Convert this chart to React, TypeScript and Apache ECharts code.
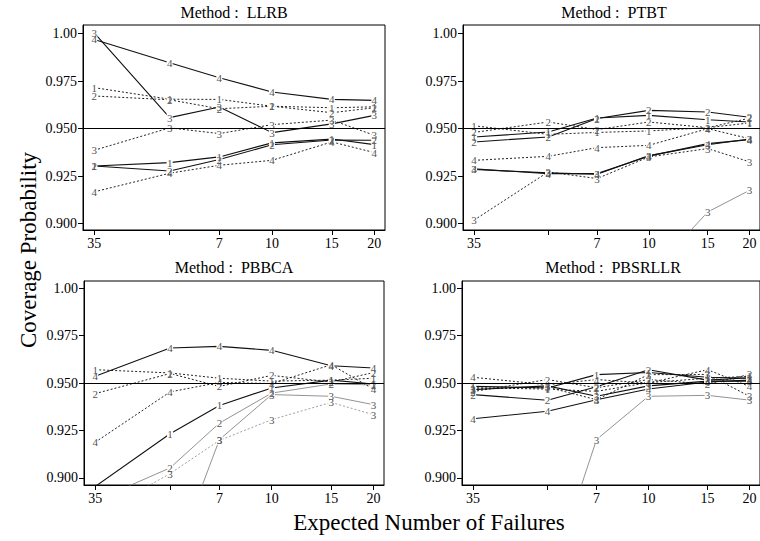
import React, { useEffect, useRef } from "react";
import * as echarts from "echarts";

// ---------- data ----------
const xValues = [3, 5, 7, 10, 15, 20];
const xLabelValues = [3, 7, 10, 15, 20];
const xLabelText: Record<number, string> = { 3: "35", 7: "7", 10: "10", 15: "15", 20: "20" };
const yTickValues = [0.9, 0.925, 0.95, 0.975, 1.0];
const methods = ["LLRB", "PTBT", "PBBCA", "PBSRLLR"];
const xTitle = "Expected Number of Failures";
const yTitle = "Coverage Probability";

// LLRB
const llrbS1 = [0.9303, 0.9321, 0.9351, 0.9425, 0.9445, 0.9416];
const llrbS2 = [0.9303, 0.9277, 0.9337, 0.9415, 0.944, 0.9439];
const llrbS3 = [1.0005, 0.9558, 0.9614, 0.9479, 0.9525, 0.957];
const llrbS4 = [0.997, 0.9847, 0.9768, 0.9693, 0.9654, 0.9649];
const llrbD1 = [0.9716, 0.9655, 0.9654, 0.9618, 0.961, 0.9615];
const llrbD2 = [0.9672, 0.9652, 0.9605, 0.9618, 0.9584, 0.961];
const llrbD3 = [0.9386, 0.9504, 0.9474, 0.9521, 0.9545, 0.9465];
const llrbD4 = [0.9167, 0.9265, 0.9307, 0.9333, 0.943, 0.9374];

// PTBT
const ptbtS1 = [0.9456, 0.9482, 0.9556, 0.957, 0.9547, 0.9535];
const ptbtS2 = [0.943, 0.9456, 0.9553, 0.9596, 0.9588, 0.956];
const ptbtS3 = [0.9285, 0.9267, 0.926, 0.9358, 0.9415, 0.9445];
const ptbtS4 = [0.9288, 0.9263, 0.9263, 0.9355, 0.9421, 0.9442];
const ptbtD1 = [0.9515, 0.947, 0.948, 0.9488, 0.9505, 0.953];
const ptbtD2 = [0.948, 0.9535, 0.9495, 0.9535, 0.9505, 0.9555];
const ptbtD3 = [0.9018, 0.9272, 0.9237, 0.9351, 0.9395, 0.9325];
const ptbtD4 = [0.9333, 0.9354, 0.94, 0.9412, 0.95, 0.9447];
const ptbtT3 = [0.78, 0.82, 0.85, 0.8725, 0.9061, 0.9175];

// PBBCA
const pbbcaS1 = [0.8955, 0.9233, 0.9382, 0.9474, 0.9515, 0.9495];
const pbbcaS4 = [0.9535, 0.9684, 0.9693, 0.9672, 0.9591, 0.9579];
const pbbcaD1 = [0.957, 0.9553, 0.9525, 0.951, 0.9515, 0.9525];
const pbbcaD2 = [0.9444, 0.955, 0.9482, 0.954, 0.9505, 0.9555];
const pbbcaD4 = [0.9188, 0.9453, 0.9503, 0.9497, 0.9596, 0.9468];
const pbbcaT2 = [0.888, 0.9053, 0.9289, 0.9447, 0.9495, 0.949];
const pbbcaT3 = [0.83, 0.851, 0.9202, 0.9439, 0.943, 0.9386];
const pbbcaTD3 = [0.88, 0.9023, 0.9198, 0.9307, 0.9398, 0.9333];

// PBSRLLR
const pbsrS1 = [0.9482, 0.9474, 0.9544, 0.9555, 0.953, 0.9525];
const pbsrS2 = [0.9439, 0.9409, 0.948, 0.957, 0.9515, 0.9528];
const pbsrS3 = [0.9465, 0.9485, 0.943, 0.9485, 0.951, 0.951];
const pbsrS4 = [0.9312, 0.9351, 0.9412, 0.9468, 0.9505, 0.9515];
const pbsrD1 = [0.9475, 0.9468, 0.9456, 0.9502, 0.9525, 0.9535];
const pbsrD2 = [0.9455, 0.9518, 0.9475, 0.9518, 0.9495, 0.9545];
const pbsrD3 = [0.9468, 0.9478, 0.9412, 0.9544, 0.9545, 0.943];
const pbsrD4 = [0.953, 0.9491, 0.9518, 0.95, 0.957, 0.9482];
const pbsrT3 = [0.8, 0.8423, 0.9202, 0.943, 0.9435, 0.941];

type Kind = "solid" | "dotted" | "thin" | "thindotted";
type Def = { digit: string; kind: Kind; values: number[] };

const panels: Def[][] = [
  [
    { digit: "1", kind: "dotted", values: llrbD1 },
    { digit: "2", kind: "dotted", values: llrbD2 },
    { digit: "3", kind: "dotted", values: llrbD3 },
    { digit: "4", kind: "dotted", values: llrbD4 },
    { digit: "1", kind: "solid", values: llrbS1 },
    { digit: "2", kind: "solid", values: llrbS2 },
    { digit: "3", kind: "solid", values: llrbS3 },
    { digit: "4", kind: "solid", values: llrbS4 },
  ],
  [
    { digit: "3", kind: "thin", values: ptbtT3 },
    { digit: "1", kind: "dotted", values: ptbtD1 },
    { digit: "2", kind: "dotted", values: ptbtD2 },
    { digit: "3", kind: "dotted", values: ptbtD3 },
    { digit: "4", kind: "dotted", values: ptbtD4 },
    { digit: "1", kind: "solid", values: ptbtS1 },
    { digit: "2", kind: "solid", values: ptbtS2 },
    { digit: "3", kind: "solid", values: ptbtS3 },
    { digit: "4", kind: "solid", values: ptbtS4 },
  ],
  [
    { digit: "2", kind: "thin", values: pbbcaT2 },
    { digit: "3", kind: "thin", values: pbbcaT3 },
    { digit: "3", kind: "thindotted", values: pbbcaTD3 },
    { digit: "1", kind: "dotted", values: pbbcaD1 },
    { digit: "2", kind: "dotted", values: pbbcaD2 },
    { digit: "4", kind: "dotted", values: pbbcaD4 },
    { digit: "1", kind: "solid", values: pbbcaS1 },
    { digit: "4", kind: "solid", values: pbbcaS4 },
  ],
  [
    { digit: "3", kind: "thin", values: pbsrT3 },
    { digit: "1", kind: "dotted", values: pbsrD1 },
    { digit: "2", kind: "dotted", values: pbsrD2 },
    { digit: "3", kind: "dotted", values: pbsrD3 },
    { digit: "4", kind: "dotted", values: pbsrD4 },
    { digit: "1", kind: "solid", values: pbsrS1 },
    { digit: "2", kind: "solid", values: pbsrS2 },
    { digit: "3", kind: "solid", values: pbsrS3 },
    { digit: "4", kind: "solid", values: pbsrS4 },
  ],
];

// ---------- layout ----------
const FONT = "'Liberation Serif', 'Times New Roman', serif";
const grids = [
  { left: 83, top: 25, width: 302, height: 205 },
  { left: 463, top: 25, width: 302, height: 205 },
  { left: 84, top: 281, width: 300, height: 204 },
  { left: 462, top: 281, width: 302, height: 204 },
];
const yRanges = [
  [0.8966, 1.0046],
  [0.8966, 1.0046],
  [0.8963, 1.0037],
  [0.8963, 1.0037],
];
const titlePos = [
  [234, 12],
  [614, 12],
  [234, 267],
  [613, 267],
];

const styleFor = (k: Kind) => {
  switch (k) {
    case "solid":
      return { color: "#111", width: 1.1, type: "solid" as any };
    case "dotted":
      return { color: "#222", width: 1, type: [2, 2] as any };
    case "thin":
      return { color: "#777", width: 0.8, type: "solid" as any };
    default:
      return { color: "#888", width: 0.8, type: [2, 2] as any };
  }
};

export default function App() {
  const ref = useRef<HTMLDivElement>(null);
  useEffect(() => {
    if (!ref.current) return;
    const chart = echarts.init(ref.current, undefined, { renderer: "svg" });

    const series: any[] = [];
    panels.forEach((defs, p) => {
      defs.forEach((d, j) => {
        const s: any = {
          type: "line",
          xAxisIndex: p,
          yAxisIndex: p,
          data: xValues.map((x, i) => [x, d.values[i]]),
          symbol: "rect",
          symbolSize: [6, 9],
          showAllSymbol: true,
          color: "#555",
          itemStyle: { color: "#fff", borderWidth: 0 },
          lineStyle: styleFor(d.kind),
          label: {
            show: true,
            position: [3, 4.5],
            align: "center",
            verticalAlign: "middle",
            formatter: () => d.digit,
            color: "#555",
            textBorderWidth: 0,
            fontSize: 11,
            fontFamily: FONT,
          },
          clip: true,
          silent: true,
          emphasis: { disabled: true },
        };
        if (j === 0) {
          s.markLine = {
            silent: true,
            symbol: ["none", "none"],
            label: { show: false },
            lineStyle: { color: "#000", width: 1, type: "solid" },
            data: [{ yAxis: 0.95 }],
          };
        }
        series.push(s);
      });
    });

    const option: any = {
      animation: false,
      backgroundColor: "#fff",
      textStyle: { fontFamily: FONT },
      grid: grids.map((g) => ({
        ...g,
        show: true,
        borderColor: "#000",
        borderWidth: 1,
        backgroundColor: "transparent",
        containLabel: false,
      })),
      xAxis: grids.map((_, i) => ({
        type: "log",
        gridIndex: i,
        min: 2.78,
        max: 21.5,
        logBase: 10,
        axisLine: { show: true, onZero: false, lineStyle: { color: "#000", width: 1 } },
        axisTick: {
          show: true,
          length: 5,
          customValues: xValues,
          lineStyle: { color: "#000" },
        },
        minorTick: { show: false },
        axisLabel: {
          show: true,
          customValues: xLabelValues,
          formatter: (v: number) => xLabelText[Math.round(v)] ?? "",
          fontFamily: FONT,
          fontSize: 14,
          color: "#000",
          margin: 6,
        },
        splitLine: { show: false },
      })),
      yAxis: grids.map((_, i) => ({
        type: "value",
        gridIndex: i,
        min: yRanges[i][0],
        max: yRanges[i][1],
        axisLine: { show: true, onZero: false, lineStyle: { color: "#000", width: 1 } },
        axisTick: {
          show: true,
          length: 5,
          customValues: yTickValues,
          lineStyle: { color: "#000" },
        },
        axisLabel: {
          show: true,
          customValues: yTickValues,
          formatter: (v: number) => (Math.abs(v - 1) < 1e-6 ? "1.00" : v.toFixed(3)),
          fontFamily: FONT,
          fontSize: 14,
          color: "#000",
          margin: 6,
        },
        splitLine: { show: false },
      })),
      series,
      graphic: [
        ...methods.map((m, i) => ({
          type: "text",
          x: titlePos[i][0],
          y: titlePos[i][1],
          silent: true,
          style: {
            text: "Method :  " + m,
            fontFamily: FONT,
            fontSize: 16,
            fill: "#000",
            textAlign: "center",
            textVerticalAlign: "middle",
            align: "center",
            verticalAlign: "middle",
          },
        })),
        {
          type: "text",
          x: 429,
          y: 522,
          silent: true,
          style: {
            text: xTitle,
            fontFamily: FONT,
            fontSize: 23,
            fill: "#000",
            textAlign: "center",
            textVerticalAlign: "middle",
            align: "center",
            verticalAlign: "middle",
          },
        },
        {
          type: "text",
          x: 28,
          y: 250,
          rotation: Math.PI / 2,
          silent: true,
          style: {
            text: yTitle,
            fontFamily: FONT,
            fontSize: 23,
            fill: "#000",
            textAlign: "center",
            textVerticalAlign: "middle",
            align: "center",
            verticalAlign: "middle",
          },
        },
      ],
    };
    chart.setOption(option);
    return () => chart.dispose();
  }, []);
  return (
    <div
      ref={ref}
      style={{ position: "absolute", left: 0, top: 0, width: 760, height: 541, background: "#fff" }}
    />
  );
}
